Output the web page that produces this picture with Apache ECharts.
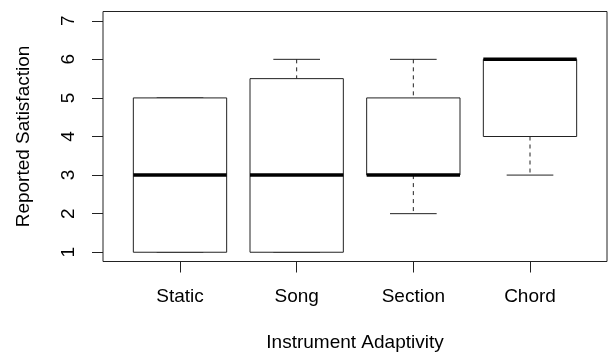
<!DOCTYPE html>
<html>
<head>
<meta charset="utf-8">
<script src="https://cdn.jsdelivr.net/npm/echarts@6/dist/echarts.min.js"></script>
<style>
  html, body { margin: 0; padding: 0; background: #fff; }
  #chart { width: 608px; height: 353px; }
</style>
</head>
<body>
<div id="chart"></div>
<script>
// Satisfaction ratings per adaptivity mode (five-number summaries)
const categories = ['Static', 'Song', 'Section', 'Chord'];
const lowerWhisker = [1, 1, 2, 3];
const lowerQuartile = [1, 1, 3, 4];
const medians = [3, 3, 3, 6];
const upperQuartile = [5, 5.5, 5, 6];
const upperWhisker = [5, 6, 6, 6];
const yTicks = [1, 2, 3, 4, 5, 6, 7];
const xTicks = [1, 2, 3, 4];

const FONT = 'Liberation Sans, Arial, sans-serif';
const INK = '#222';

const boxData = categories.map((c, i) => [
  i + 1, lowerWhisker[i], lowerQuartile[i], medians[i], upperQuartile[i], upperWhisker[i]
]);

function renderBox(params, api) {
  const x = api.value(0);
  const lo = api.coord([x, api.value(1)]);
  const q1 = api.coord([x, api.value(2)]);
  const med = api.coord([x, api.value(3)]);
  const q3 = api.coord([x, api.value(4)]);
  const hi = api.coord([x, api.value(5)]);
  const boxW = api.size([0.8, 0])[0];
  const capW = api.size([0.4, 0])[0];
  const cx = q1[0];
  const dashed = { stroke: INK, lineWidth: 1, lineDash: [4, 4] };
  const solid = { stroke: INK, lineWidth: 1 };
  const children = [];
  // whiskers
  if (q3[1] - hi[1] > 0.5) {
    children.push({ type: 'line', shape: { x1: cx, y1: hi[1], x2: cx, y2: q3[1] }, style: dashed });
  }
  if (lo[1] - q1[1] > 0.5) {
    children.push({ type: 'line', shape: { x1: cx, y1: q1[1], x2: cx, y2: lo[1] }, style: dashed });
  }
  // caps
  children.push({ type: 'line', shape: { x1: cx - capW / 2, y1: hi[1], x2: cx + capW / 2, y2: hi[1] }, style: solid });
  children.push({ type: 'line', shape: { x1: cx - capW / 2, y1: lo[1], x2: cx + capW / 2, y2: lo[1] }, style: solid });
  // box
  children.push({
    type: 'rect',
    shape: { x: cx - boxW / 2, y: q3[1], width: boxW, height: q1[1] - q3[1] },
    style: { fill: '#fff', stroke: INK, lineWidth: 1 }
  });
  // median
  children.push({
    type: 'line',
    shape: { x1: cx - boxW / 2, y1: med[1], x2: cx + boxW / 2, y2: med[1] },
    style: { stroke: '#000', lineWidth: 3.5 }
  });
  return { type: 'group', children: children };
}

const chart = echarts.init(document.getElementById('chart'), null, { renderer: 'canvas' });
chart.setOption({
  animation: false,
  backgroundColor: '#fff',
  textStyle: { fontFamily: FONT },
  grid: {
    left: 103, right: 1, top: 11.5, bottom: 91.5,
    outerBoundsMode: 'none',
    containLabel: false,
    show: true, borderColor: INK, borderWidth: 1, backgroundColor: 'transparent'
  },
  xAxis: {
    type: 'value',
    min: 0.34, max: 4.66,
    name: 'Instrument Adaptivity',
    nameLocation: 'middle',
    nameGap: 72,
    nameTextStyle: { fontSize: 19, color: '#000', fontFamily: FONT },
    axisLine: { show: false },
    splitLine: { show: false },
    axisTick: { show: true, customValues: xTicks, length: 11, lineStyle: { color: INK } },
    axisLabel: {
      customValues: xTicks,
      formatter: v => categories[Math.round(v) - 1],
      fontSize: 19, color: '#000', margin: 26, fontFamily: FONT
    }
  },
  yAxis: {
    type: 'value',
    min: 0.76, max: 7.24,
    name: 'Reported Satisfaction',
    nameLocation: 'middle',
    nameGap: 70,
    nameTextStyle: { fontSize: 19, color: '#000', fontFamily: FONT },
    axisLine: { show: false },
    splitLine: { show: false },
    axisTick: { show: true, customValues: yTicks, length: 11, lineStyle: { color: INK } },
    axisLabel: {
      customValues: yTicks,
      rotate: 90,
      fontSize: 19, color: '#000', margin: 25, fontFamily: FONT
    }
  },
  series: [{
    type: 'custom',
    renderItem: renderBox,
    encode: { x: 0, y: [1, 2, 3, 4, 5] },
    data: boxData,
    clip: false
  }]
});
</script>
</body>
</html>
